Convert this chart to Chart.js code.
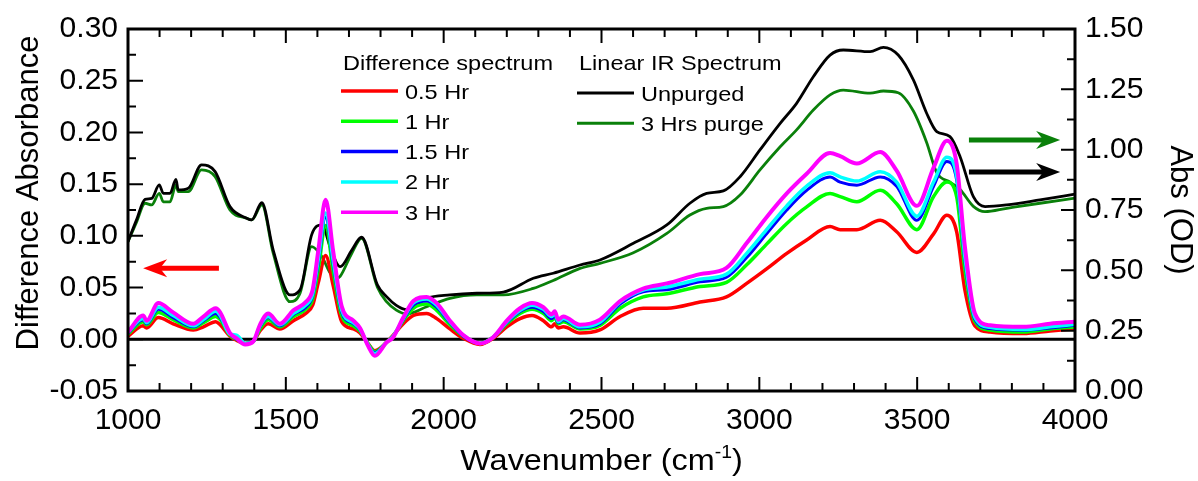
<!DOCTYPE html>
<html>
<head>
<meta charset="utf-8">
<script src="https://cdn.jsdelivr.net/npm/chart.js@4.4.0/dist/chart.umd.min.js"></script>
<style>
html, body { margin: 0; padding: 0; background: #fff; }
</style>
</head>
<body>
<canvas id="myChart" width="1198" height="481"></canvas>
<script>
// difference spectra (left axis)
const diffWn = [1000,1048,1059,1096,1143,1207,1239,1278,1292,1323,
  1344,1371,1397,1418,1444,1481,1524,1563,1585,1603,
  1626,1650,1677,1714,1735,1760,1782,1819,1840,1872,
  1904,1946,1978,2020,2062,2115,2157,2200,2242,2280,
  2316,2342,2352,2363,2379,2432,2495,2559,2632,2707,
  2812,2896,2960,3023,3087,3150,3224,3256,3309,3383,
  3435,3499,3552,3594,3625,3651,3683,3731,3836,3921,4000];
const hr05 = [0.003,0.013,0.011,0.021,0.015,0.009,0.012,0.017,0.014,0.003,
  -0.001,-0.004,-0.002,0.008,0.015,0.010,0.018,0.025,0.033,0.055,
  0.081,0.052,0.017,0.010,0.006,-0.004,-0.011,-0.003,0.004,0.015,
  0.023,0.025,0.020,0.010,0.001,-0.005,0.001,0.012,0.020,0.023,
  0.018,0.012,0.015,0.011,0.012,0.006,0.009,0.022,0.030,0.030,
  0.036,0.041,0.054,0.068,0.083,0.096,0.109,0.106,0.106,0.115,
  0.104,0.084,0.102,0.120,0.104,0.048,0.013,0.007,0.0055,0.008,0.010];
const hr1 = [0.005,0.017,0.014,0.026,0.019,0.011,0.016,0.022,0.019,0.004,
  0.000,-0.004,-0.002,0.010,0.019,0.012,0.022,0.029,0.039,0.068,
  0.110,0.066,0.023,0.013,0.008,-0.004,-0.012,-0.003,0.003,0.018,
  0.030,0.034,0.028,0.014,0.003,-0.004,0.002,0.015,0.025,0.029,
  0.025,0.018,0.021,0.015,0.017,0.010,0.0135,0.030,0.041,0.044,
  0.051,0.055,0.072,0.092,0.112,0.128,0.141,0.138,0.133,0.144,
  0.131,0.106,0.138,0.152,0.138,0.068,0.017,0.009,0.007,0.010,0.012];
const hr15 = [0.006,0.019,0.015,0.029,0.021,0.012,0.018,0.025,0.021,0.005,
  0.000,-0.004,-0.002,0.012,0.021,0.013,0.024,0.031,0.042,0.074,
  0.118,0.072,0.026,0.015,0.009,-0.005,-0.013,-0.003,0.003,0.019,
  0.033,0.037,0.031,0.016,0.003,-0.004,0.002,0.016,0.027,0.031,
  0.027,0.020,0.023,0.016,0.019,0.011,0.015,0.034,0.046,0.048,
  0.0555,0.060,0.079,0.102,0.125,0.144,0.157,0.152,0.149,0.157,
  0.148,0.115,0.148,0.172,0.154,0.076,0.019,0.0103,0.0087,0.011,0.0135];
const hr2 = [0.007,0.020,0.016,0.031,0.023,0.013,0.019,0.027,0.023,0.005,
  0.004,-0.004,-0.002,0.013,0.022,0.014,0.025,0.033,0.044,0.078,
  0.122,0.076,0.028,0.016,0.010,-0.005,-0.014,-0.003,0.003,0.020,
  0.035,0.039,0.033,0.017,0.004,-0.004,0.002,0.017,0.028,0.033,
  0.029,0.022,0.025,0.017,0.020,0.012,0.0165,0.036,0.0475,0.0505,
  0.058,0.063,0.083,0.106,0.129,0.148,0.161,0.157,0.153,0.162,
  0.152,0.119,0.152,0.176,0.158,0.080,0.021,0.0115,0.0095,0.012,0.0145];
const hr3 = [0.007,0.023,0.018,0.035,0.026,0.015,0.022,0.030,0.026,0.006,
  0.001,-0.005,-0.002,0.014,0.025,0.015,0.028,0.036,0.048,0.086,
  0.135,0.085,0.032,0.018,0.011,-0.006,-0.016,-0.003,0.002,0.021,
  0.037,0.041,0.035,0.018,0.004,-0.004,0.002,0.018,0.030,0.035,
  0.031,0.024,0.027,0.019,0.022,0.014,0.019,0.037,0.049,0.054,
  0.063,0.069,0.093,0.118,0.141,0.160,0.180,0.177,0.170,0.181,
  0.163,0.129,0.166,0.192,0.170,0.090,0.025,0.0135,0.012,0.015,0.017];

// linear IR spectra (right axis, OD)
const linWn = [1000,1027,1054,1075,1099,1112,1133,1152,1159,1191,
  1233,1276,1323,1376,1392,1424,1460,1513,1545,1582,
  1614,1640,1661,1672,1709,1740,1790,1819,1850,1883,
  1946,2020,2105,2189,2284,2347,2432,2495,2601,2707,
  2780,2833,2886,2939,3002,3066,3118,3171,3224,3266,
  3351,3393,3440,3488,3530,3562,3604,3636,3678,3715,
  3784,3889,4000];
const unpurged = [0.619,0.709,0.794,0.798,0.854,0.819,0.819,0.877,0.833,0.840,
  0.937,0.909,0.764,0.716,0.709,0.780,0.584,0.398,0.419,0.648,
  0.688,0.598,0.530,0.515,0.584,0.637,0.440,0.391,0.355,0.337,
  0.384,0.398,0.405,0.410,0.467,0.488,0.522,0.543,0.612,0.688,
  0.778,0.819,0.829,0.888,0.999,1.109,1.192,1.302,1.392,1.413,
  1.406,1.424,1.392,1.289,1.151,1.075,1.054,0.971,0.805,0.764,
  0.771,0.792,0.816];
const purged = [0.619,0.700,0.778,0.771,0.819,0.784,0.784,0.854,0.826,0.826,
  0.916,0.888,0.750,0.716,0.709,0.771,0.571,0.370,0.405,0.598,
  0.557,0.490,0.467,0.475,0.571,0.633,0.430,0.370,0.335,0.319,
  0.349,0.384,0.398,0.398,0.425,0.458,0.508,0.529,0.573,0.653,
  0.729,0.757,0.764,0.812,0.916,1.012,1.082,1.164,1.227,1.247,
  1.234,1.243,1.236,1.160,1.030,0.905,0.865,0.835,0.765,0.743,
  0.757,0.778,0.799];

const diffLabels = ["0.5 Hr", "1 Hr", "1.5 Hr", "2 Hr", "3 Hr"];
const diffColors = ["#ff0000", "#00ff00", "#0000ff", "#00ffff", "#ff00ff"];
const linLabels = ["Unpurged", "3 Hrs purge"];
const linColors = ["#000000", "#0a800a"];

const FONT = '"Liberation Sans", Arial, sans-serif';

function pts(xs, ys) { return xs.map((x, i) => ({x: x, y: ys[i]})); }

function lineSet(label, xs, ys, color, width, axis) {
  return {
    label: label, data: pts(xs, ys), yAxisID: axis,
    borderColor: color, borderWidth: width, pointRadius: 0,
    cubicInterpolationMode: 'monotone', fill: false
  };
}

function fmt2(v) { return Math.abs(v) < 1e-9 ? '0.00' : v.toFixed(2); }

function stretchText(ctx, text, x, y, sx) {
  ctx.save();
  ctx.translate(x, y);
  ctx.scale(sx, 1);
  ctx.fillText(text, 0, 0);
  ctx.restore();
}

function arrow(ctx, x1, x2, y, color) {
  // x1 = tail, x2 = tip
  const dir = x2 > x1 ? 1 : -1;
  const hl = 24, hw = 9;
  ctx.save();
  ctx.strokeStyle = color; ctx.fillStyle = color; ctx.lineWidth = 5;
  ctx.beginPath();
  ctx.moveTo(x1, y); ctx.lineTo(x2 - dir * hl * 0.6, y); ctx.stroke();
  ctx.beginPath();
  ctx.moveTo(x2, y);
  ctx.lineTo(x2 - dir * hl, y - hw);
  ctx.lineTo(x2 - dir * hl * 0.7, y);
  ctx.lineTo(x2 - dir * hl, y + hw);
  ctx.closePath();
  ctx.fill();
  ctx.restore();
}

const decor = {
  id: 'decor',
  beforeDatasetsDraw(chart) {
    const {ctx, chartArea: a, scales} = chart;
    const y0 = scales.y.getPixelForValue(0);
    ctx.save();
    ctx.strokeStyle = '#000'; ctx.lineWidth = 3;
    ctx.beginPath(); ctx.moveTo(a.left, y0); ctx.lineTo(a.right, y0); ctx.stroke();
    ctx.restore();
  },
  afterDraw(chart) {
    const {ctx, chartArea: a, scales: {x, y, y2}} = chart;
    ctx.save();
    ctx.strokeStyle = '#000';
    ctx.lineWidth = 2;
    ctx.beginPath();
    // inward ticks, bottom + top
    for (let v = 1000; v <= 4000; v += 100) {
      const px = x.getPixelForValue(v);
      const len = v % 500 === 0 ? 14 : 8;
      ctx.moveTo(px, a.bottom); ctx.lineTo(px, a.bottom - len);
      ctx.moveTo(px, a.top); ctx.lineTo(px, a.top + len);
    }
    // left
    for (let i = -2; i <= 12; i++) {
      const py = y.getPixelForValue(i * 0.025);
      const len = i % 2 === 0 ? 15 : 8;
      ctx.moveTo(a.left, py); ctx.lineTo(a.left + len, py);
    }
    // right
    for (let i = 0; i <= 12; i++) {
      const py = y2.getPixelForValue(i * 0.125);
      const len = i % 2 === 0 ? 14 : 8;
      ctx.moveTo(a.right, py); ctx.lineTo(a.right - len, py);
    }
    ctx.stroke();
    ctx.lineWidth = 3;
    ctx.strokeRect(a.left, a.top, a.right - a.left, a.bottom - a.top);

    // arrows
    arrow(ctx, x.getPixelForValue(1288), x.getPixelForValue(1048), y.getPixelForValue(0.0687), '#ff0000');
    arrow(ctx, x.getPixelForValue(3664), x.getPixelForValue(3953), y2.getPixelForValue(1.04), linColors[1]);
    arrow(ctx, x.getPixelForValue(3664), x.getPixelForValue(3953), y2.getPixelForValue(0.9075), '#000000');

    // legend
    ctx.fillStyle = '#000';
    ctx.textBaseline = 'alphabetic';
    ctx.font = '21px ' + FONT;
    stretchText(ctx, 'Difference spectrum', 343, 70, 1.12);
    diffLabels.forEach((lab, i) => {
      const yy = 91 + i * 30.3;
      ctx.strokeStyle = diffColors[i]; ctx.lineWidth = 3.5;
      ctx.beginPath(); ctx.moveTo(341, yy); ctx.lineTo(398, yy); ctx.stroke();
      stretchText(ctx, lab, 405, yy + 7.5, 1.12);
    });
    stretchText(ctx, 'Linear IR Spectrum', 579, 70, 1.12);
    linLabels.forEach((lab, i) => {
      const yy = 93 + i * 30.3;
      ctx.strokeStyle = linColors[i]; ctx.lineWidth = 3;
      ctx.beginPath(); ctx.moveTo(577, yy); ctx.lineTo(634, yy); ctx.stroke();
      stretchText(ctx, lab, 641, yy + 7.5, 1.12);
    });

    // left axis title
    ctx.save();
    ctx.font = '31px ' + FONT;
    ctx.translate(38, 193);
    ctx.rotate(-Math.PI / 2);
    ctx.textAlign = 'center';
    ctx.fillText('Difference Absorbance', 0, 0);
    ctx.restore();

    // bottom axis title with superscript
    ctx.save();
    const big = '30px ' + FONT, small = '18px ' + FONT;
    ctx.font = big;
    const w1 = ctx.measureText('Wavenumber (cm').width;
    const w3 = ctx.measureText(')').width;
    ctx.font = small;
    const w2 = ctx.measureText('-1').width;
    const sx = 1.08;
    const total = (w1 + w2 + w3) * sx;
    const cx = (a.left + a.right) / 2;
    ctx.translate(cx - total / 2, 470);
    ctx.scale(sx, 1);
    ctx.font = big; ctx.fillText('Wavenumber (cm', 0, 0);
    ctx.font = small; ctx.fillText('-1', w1, -12);
    ctx.font = big; ctx.fillText(')', w1 + w2, 0);
    ctx.restore();
    ctx.restore();
  }
};

const datasets = [];
datasets.push(lineSet(diffLabels[4], diffWn, hr3, diffColors[4], 4, 'y'));
datasets.push(lineSet(diffLabels[3], diffWn, hr2, diffColors[3], 3.5, 'y'));
datasets.push(lineSet(diffLabels[2], diffWn, hr15, diffColors[2], 3, 'y'));
datasets.push(lineSet(diffLabels[1], diffWn, hr1, diffColors[1], 3.5, 'y'));
datasets.push(lineSet(diffLabels[0], diffWn, hr05, diffColors[0], 3.5, 'y'));
datasets.push(lineSet(linLabels[0], linWn, unpurged, linColors[0], 2.8, 'y2'));
datasets.push(lineSet(linLabels[1], linWn, purged, linColors[1], 2.8, 'y2'));

new Chart("myChart", {
  type: "line",
  data: { datasets: datasets },
  options: {
    responsive: false,
    animation: false,
    devicePixelRatio: 1,
    layout: { padding: { top: 29, left: 0, right: 0, bottom: 0 } },
    plugins: { legend: { display: false }, tooltip: { enabled: false } },
    scales: {
      x: {
        type: 'linear', position: 'bottom', min: 1000, max: 4000,
        grid: { display: false, drawTicks: false },
        border: { display: false },
        ticks: { stepSize: 500, padding: 12, color: '#000', font: { family: FONT, size: 30 },
          maxRotation: 0, callback: v => String(v) },
        afterFit(s) { s.height = 90; }
      },
      y: {
        position: 'left', min: -0.05, max: 0.30,
        grid: { display: false, drawTicks: false },
        border: { display: false },
        ticks: { stepSize: 0.05, padding: 10, color: '#000', font: { family: FONT, size: 30 },
          callback: fmt2 },
        afterFit(s) { s.width = 128; }
      },
      y2: {
        position: 'right', min: 0, max: 1.5,
        grid: { display: false, drawTicks: false },
        border: { display: false },
        ticks: { stepSize: 0.25, padding: 10, color: '#000', font: { family: FONT, size: 30 },
          callback: fmt2 },
        title: { display: true, text: 'Abs (OD)', color: '#000', font: { family: FONT, size: 31 },
          padding: { top: 0, bottom: 0 } },
        afterFit(s) { s.width = 123; }
      }
    }
  },
  plugins: [decor]
});
</script>
</body>
</html>
